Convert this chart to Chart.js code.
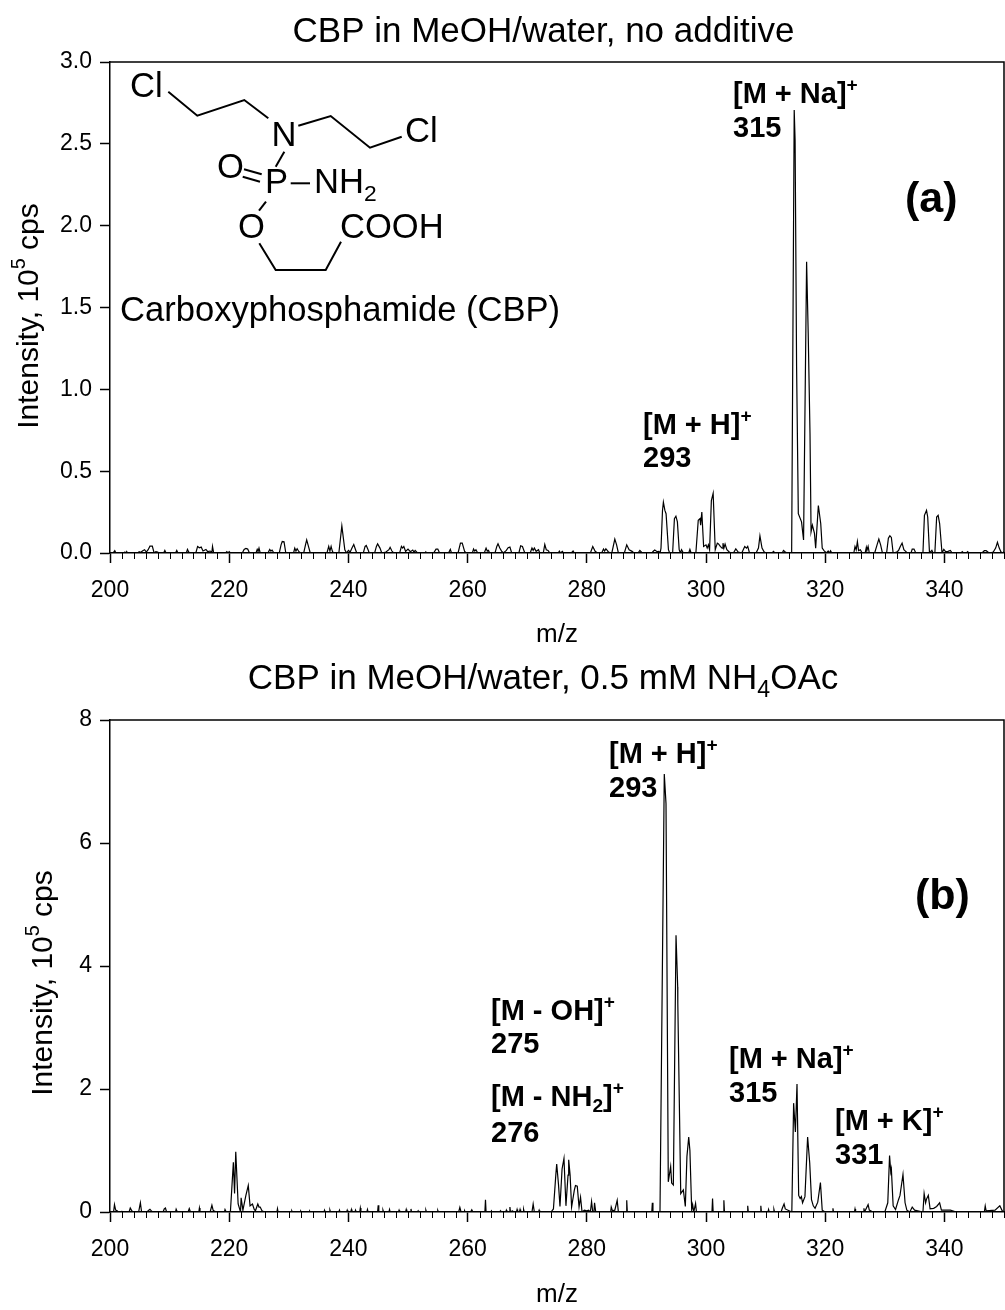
<!DOCTYPE html>
<html lang="en">
<head>
  <meta charset="UTF-8">
  <title>CBP spectra</title>
  <script src="https://cdn.jsdelivr.net/npm/chart.js"></script>
  <style>
    html, body { margin: 0; padding: 0; background: #fff; }
    body { position: relative; width: 1005px; height: 1310px; overflow: hidden; }
    canvas { position: absolute; left: 0; }
    #chartA { top: 0; }
    #chartB { top: 650px; }
  </style>
</head>
<body>
  <canvas id="chartA" width="1005" height="650"></canvas>
  <canvas id="chartB" width="1005" height="660"></canvas>

  <script>
    // panel (a) spectrum
    const mzA = [
      200, 200.5, 200.8, 201, 202.3, 202.5, 202.7, 202.8, 203,
      204.6, 204.9, 205.1, 205.5, 205.8, 206.1, 206.4, 206.7, 207.1, 207.4,
      207.7, 208, 208.2, 209, 209.2, 209.4, 211, 211.2, 211.4, 212.8, 213, 213.2, 213.5,
      214.4, 214.7, 215, 215.3, 215.6, 216.1, 216.4, 216.8, 217.1, 217.2, 217.4,
      219.4, 219.6, 219.8, 220, 220.2,
      222.2, 222.5, 222.8, 223.1, 223.4, 224.5, 224.7, 224.85, 225, 225.2,
      226.5, 226.8, 227, 227.2, 227.5, 228.4, 228.7, 228.9, 229.2, 229.5,
      230.8, 231, 231.2, 231.4, 231.7, 232, 232.5, 232.8, 233, 233.3, 233.6,
      236.4, 236.7, 236.9, 237.1, 237.3, 237.5,
      238.4, 238.9, 239.4, 239.7, 240, 240.3, 240.6, 240.9, 241.2, 241.4,
      242.5, 242.8, 243, 243.3, 243.5, 244.4, 244.7, 244.9, 245.3, 245.6, 246.3, 246.8, 247, 247.3, 247.6,
      248.6, 248.9, 249.1, 249.3, 249.6, 250, 250.4, 250.8, 251, 251.2, 251.6,
      252.9, 253, 253.2, 254.3, 254.7, 255, 255.3, 256.8, 257.1, 257.3,
      258.4, 258.8, 259.1, 259.5, 259.8, 260.8, 261, 261.2, 261.4, 261.7,
      262.8, 263.1, 263.3, 263.5, 263.7, 264.6, 264.9, 265.1, 265.4, 265.7, 266,
      266.5, 266.8, 267.1, 267.4, 268.6, 268.9, 269.2, 269.6,
      270.5, 270.8, 271, 271.2, 271.5, 271.9, 272.1, 272.7, 272.95, 273.2, 273.5, 273.8,
      275.2, 275.4, 275.6, 275.9, 276.1, 277.4, 277.7, 277.9,
      280.6, 281, 281.4, 281.8, 282.5, 282.8, 283, 283.2, 283.6, 283.9,
      284.2, 284.7, 285, 285.3, 286.3, 286.7, 287.1, 287.6, 287.9,
      288.6, 288.9, 289.3, 290.9, 291.2, 291.4, 291.8, 292.1, 292.3,
      292.45, 292.7, 292.85, 293.1, 293.3, 293.7, 293.9,
      294.4, 294.7, 294.95, 295.2, 295.5, 295.7, 295.9, 296.2, 297.1, 297.3, 297.5,
      298.3, 298.7, 299, 299.1, 299.3, 299.6, 300, 300.2, 300.4, 300.6,
      300.9, 301.2, 301.55, 301.9, 302.1, 302.4, 302.7, 302.85, 303, 303.2, 303.5, 303.9, 304.2,
      304.6, 305, 305.4, 306, 306.5, 306.8, 307, 307.3,
      308.4, 308.8, 309.05, 309.4, 309.7, 310, 311.1, 311.3, 311.6, 312.8, 313, 313.3, 313.6,
      314.37, 314.8, 314.95, 315.2, 315.49, 316.03, 316.37, 316.88, 317.15, 317.45, 317.63, 317.85, 318.2, 318.4,
      318.85, 319.25, 319.5, 319.8, 320.2, 320.5, 320.7, 320.9, 321.1,
      324.8, 325, 325.2, 325.4, 325.6, 325.9, 326.2, 326.7, 326.9, 327, 327.2, 327.4,
      328.3, 328.7, 329, 329.3, 329.6, 330.3, 330.6, 330.85, 331.1, 331.4,
      332, 332.3, 332.6, 332.9, 333.2, 333.5, 333.8, 334.4, 334.6, 334.9, 335.2,
      336.4, 336.65, 337, 337.2, 337.5, 337.9, 338.1, 338.4, 338.7, 338.95, 339.2, 339.6,
      339.9, 340.2, 340.6, 341, 341.3, 342.8, 343, 343.2, 343.7, 343.9, 344.1,
      346.3, 346.7, 347, 347.3, 347.6, 348.2, 348.6, 348.9, 349.2, 349.5, 349.9, 350
    ];
    const intensityA = [
      0, 0, .014, 0, 0, .006, 0, .008, 0,
      0, .008, .003, .014, .02, .006, .02, .042, .042, 0,
      .008, .006, 0, 0, .016, 0, 0, .016, 0, 0, .022, .006, 0,
      0, .04, .032, .036, .012, .022, .008, .012, .006, .04, 0,
      0, .008, 0, .008, 0,
      0, .022, .028, .024, 0, 0, .022, .01, .03, 0,
      0, .022, .012, .018, 0, 0, .05, .07, .068, 0,
      0, .03, .012, .026, .008, 0, 0, .05, .08, .04, 0,
      0, .04, .012, .04, .012, 0,
      0, .165, .02, 0, .016, .006, .03, .052, .02, 0,
      0, .04, .046, .02, 0, 0, .04, .056, .03, 0, .006, .02, .035, .012, 0,
      0, .04, .03, .04, .01, .024, .008, .018, .006, .016, 0,
      0, .006, 0, 0, .024, .024, 0, 0, .022, 0,
      0, .06, .06, .01, 0, 0, .024, .012, .02, 0,
      0, .03, .012, .016, 0, 0, .04, .056, .03, .012, 0,
      .016, .032, .036, 0, 0, .044, .04, 0,
      0, .03, .016, .03, .01, .02, 0, 0, .052, .02, .016, 0,
      0, .012, 0, .01, 0, 0, .012, 0,
      0, .04, .01, 0, 0, .024, .012, .026, .008, 0,
      0, .085, .05, 0, 0, .05, .02, .01, 0,
      0, .016, 0, 0, .012, .018, .008, .01, 0,
      .03, .26, .31, .26, .24, .02, 0,
      0, .21, .225, .19, .02, 0, .02, 0, 0, .022, 0,
      0, .2, .21, .17, .25, .04, .05, .03, .05, .02,
      .32, .365, .02, .06, .055, .04, .03, .06, .03, .055, .02, .006, 0,
      0, .025, .006, 0, .04, .03, .04, 0,
      0, .03, .105, .03, .01, 0, 0, .01, 0, 0, .016, .006, 0,
      0, 2.706, 2.52, 1.14, .24, .19, .08, 1.78, 1.34, .73, .13, .17, .12, .03,
      .29, .18, .03, .015, 0, .012, 0, .014, 0,
      0, .04, .02, .07, .015, .02, 0, 0, .035, .015, .04, 0,
      0, .05, .085, .05, 0, 0, .09, .105, .095, 0,
      .006, .015, .04, .06, .02, .01, 0, 0, .024, .024, 0,
      0, .23, .26, .22, 0, .016, 0, 0, .22, .23, .18, 0,
      .022, .008, .01, .016, 0, 0, .008, 0, 0, .008, 0,
      0, .014, .014, .006, 0, .006, .03, .065, .03, .006, 0, .01
    ];

    // panel (b) spectrum
    const mzB = [
      200, 200.6, 200.75, 200.95, 201.2, 201.4, 202, 202.2, 203.2, 203.4, 203.6, 203.8,
      204.8, 205, 205.1, 205.3, 206.2, 206.5, 206.7, 207, 207.2,
      208.9, 209.1, 209.3, 209.5, 211, 211.1, 211.3, 213.1, 213.3, 213.5, 214.9, 215, 215.1,
      216.8, 217.1, 217.3, 217.6, 217.8, 219.2, 219.3, 219.5,
      220.2, 220.7, 220.9, 221.1, 221.5, 221.9, 222, 222.3, 222.8, 223.2, 223.5, 223.9, 224.2, 224.4, 224.8, 225, 225.2, 225.5, 225.9,
      228, 228.1, 228.2, 230.4, 230.5, 230.6, 231.9, 232, 232.1, 233.4, 233.5, 233.6,
      235.9, 236, 236.1, 236.8, 236.9, 237, 238.4, 238.5, 238.6, 239.7, 239.8, 239.9, 240.4, 240.5, 240.6, 241.1, 241.2, 241.3,
      241.9, 242, 242.1, 243.1, 243.2, 243.3, 244.9, 245, 245.1, 245.7, 245.8, 245.9, 246.8, 246.9, 247,
      248.4, 248.5, 248.6, 249.6, 249.7, 249.8, 250.4, 250.5, 250.6, 251.6, 251.7, 251.8, 252.9, 253, 253.1, 254.9, 255, 255.1,
      258.5, 258.7, 258.9, 259.4, 259.5, 259.6, 260.5, 260.7, 260.9, 262.9, 263, 263.1, 263.9, 264, 264.1, 265.4, 265.5, 265.6,
      266.4, 266.5, 266.6, 267, 267.1, 267.2, 267.5, 267.6, 268.2, 268.3, 268.4, 268.7, 268.8, 268.9, 269.3, 269.4, 269.5,
      270.8, 271, 271.2, 271.9, 272, 272.1,
      274, 274.4, 274.8, 274.95, 275.25, 275.5, 275.85, 276.17, 276.5, 276.85, 276.96, 277.2, 277.45, 277.9, 278.1, 278.4, 278.7, 278.95, 279.2,
      279.6, 280, 280.3, 280.6, 280.8, 281, 281.2, 281.3, 281.5, 284, 284.1, 284.3, 284.7, 285.1, 285.3, 286.6, 286.7, 286.8, 290.9, 291, 291.1,
      292.28, 293, 293.29, 293.67, 294.07, 294.24, 294.52, 294.97, 295.25, 295.27, 295.76, 296.2, 296.53, 296.8, 297.1, 297.3, 297.6, 297.76, 297.95, 298.25, 298.4,
      301, 301.1, 301.2, 302.9, 303, 303.1, 306.9, 307, 307.1, 309.1, 309.2, 309.3, 310.4, 310.5, 310.6, 311.3, 311.4, 311.5, 312.6, 312.8, 313.1, 313.3,
      314.4, 314.7, 315, 315.27, 315.55, 315.8, 316, 316.2, 316.6, 317.05, 317.4, 317.7, 318, 318.3, 318.75, 319.2, 319.5, 320,
      321.2, 321.3, 321.4, 324.9, 325, 325.1, 326.4, 326.5, 326.6, 327.2, 327.4, 328,
      330, 330.5, 330.8, 331, 331.1, 331.4, 331.8, 332.3, 332.55, 333.05, 333.4, 333.7, 334.2, 334.6, 335,
      336.4, 336.6, 336.85, 337, 337.3, 337.6, 338.2, 338.7, 339.2, 339.5, 340.3, 341, 342,
      346.7, 346.85, 347, 348.5, 349.3, 349.7, 350
    ];
    const intensityB = [
      0, 0, .12, .03, .02, 0, .01, 0, 0, .065, .03, 0,
      0, .1, .15, 0, 0, .03, .045, .01, 0,
      0, .05, .065, 0, 0, .045, 0, 0, .055, 0, 0, .065, 0,
      0, .11, .03, .01, 0, 0, .04, 0,
      0, .81, .3, .98, .13, 0, .23, .03, .27, .43, .1, .13, .04, .02, .13, .08, .08, .02, 0,
      0, .055, 0, 0, .02, 0, 0, .015, 0, 0, .015, 0,
      0, .03, 0, 0, .03, 0, 0, .03, 0, 0, .03, 0, 0, .04, 0, 0, .03, 0,
      0, .065, 0, 0, .04, 0, 0, .11, 0, 0, .03, 0, 0, .04, 0,
      0, .03, 0, 0, .04, 0, 0, .05, 0, 0, .02, 0, 0, .03, 0, 0, .025, 0,
      0, .075, 0, 0, .02, 0, 0, .035, 0, 0, .2, 0, 0, .02, 0, 0, .02, 0,
      0, .03, 0, 0, .08, 0, .02, 0, 0, .04, 0, 0, .04, 0, 0, .04, 0,
      0, .13, 0, 0, .03, 0,
      0, .05, .6, .78, .45, .09, .7, .87, .1, .6, .85, .6, .08, .35, .43, .42, .08, .24, 0,
      .03, .02, .03, 0, .17, 0, 0, .15, 0, 0, .08, .02, .03, .19, 0, 0, .19, 0, 0, .15, 0,
      0, 7.12, 6.64, .49, .74, .47, .44, 4.5, 3.66, 3.4, .3, .36, .09, .9, 1.22, 1, .03, .12, 0, .14, 0,
      0, .22, 0, 0, .19, 0, 0, .1, 0, 0, .1, 0, 0, .04, 0, 0, .04, 0, 0, .06, .13, .05,
      0, 1.77, 1.3, 2.08, .27, .22, .25, .15, .25, 1.22, .8, .2, .1, .06, .16, .48, .03, 0,
      0, .06, 0, 0, .05, 0, 0, .06, 0, .12, .03, 0,
      0, .15, .92, .65, .7, .1, .04, .2, .27, .61, .15, .03, 0, .08, .03,
      0, .3, .15, .21, .27, .05, .06, .09, .15, .03, .03, .03, 0,
      0, .1, .02, .03, .1, .02, 0
    ];

    const titleA = 'CBP in MeOH/water, no additive';
    const titleB = 'CBP in MeOH/water, 0.5 mM NH_{4}OAc';
    const yTitle = 'Intensity, 10^{5} cps';
    const xTitle = 'm/z';

    const notesA = ['[M + Na]^{+}', '315', '[M + H]^{+}', '293'];
    const notesB = ['[M + H]^{+}', '293', '[M - OH]^{+}', '275', '[M - NH_{2}]^{+}', '276', '[M + Na]^{+}', '315', '[M + K]^{+}', '331'];

    const FONT = '"Liberation Sans", Arial, sans-serif';

    // draws text with ^{..} and _{..} pieces, returns the width
    function drawRich(ctx, str, x, y, size, weight, measureOnly) {
      const parts = str.split(/(\^\{[^}]*\}|_\{[^}]*\})/).filter(s => s);
      let cx = x;
      parts.forEach(p => {
        let txt = p, fs = size, dy = 0;
        if (p[0] === '^') { txt = p.slice(2, -1); fs = size * 0.66; dy = -size * 0.42; }
        if (p[0] === '_') { txt = p.slice(2, -1); fs = size * 0.66; dy = size * 0.22; }
        ctx.font = `${weight} ${fs}px ${FONT}`;
        if (!measureOnly) ctx.fillText(txt, cx, y + dy);
        cx += ctx.measureText(txt).width;
      });
      return cx - x;
    }

    function drawCentered(ctx, str, cx, y, size) {
      const w = drawRich(ctx, str, 0, 0, size, 'normal', true);
      drawRich(ctx, str, cx - w / 2, y, size, 'normal');
    }

    function drawMolecule(ctx) {
      const bonds = [
        [[168.3, 91.7], [197.3, 115.7], [244.3, 100], [268.3, 118.3]],
        [[298.3, 125.7], [330.7, 116], [370, 147.7], [401.7, 136.7]],
        [[284.3, 151.7], [275.7, 166.7]],
        [[244, 169.3], [261.7, 174.3]],
        [[242.7, 176.7], [260, 181.7]],
        [[290.7, 183.3], [310, 183.3]],
        [[266, 201.7], [259, 210.7]],
        [[259.3, 243.3], [275.7, 270], [325.7, 270], [341, 241.7]]
      ];
      ctx.strokeStyle = '#000';
      ctx.lineWidth = 2;
      bonds.forEach(b => {
        ctx.beginPath();
        b.forEach((p, i) => i ? ctx.lineTo(p[0], p[1]) : ctx.moveTo(p[0], p[1]));
        ctx.stroke();
      });
      const atoms = [
        ['Cl', 130, 97], ['N', 271.5, 146], ['Cl', 405, 142], ['O', 217, 178], ['P', 265, 193],
        ['NH_{2}', 314, 193], ['O', 238, 238], ['COOH', 340, 238], ['Carboxyphosphamide (CBP)', 120, 321]
      ];
      atoms.forEach(a => drawRich(ctx, a[0], a[1], a[2], 34.6, 'normal'));
    }

    // frame, minor ticks, titles and peak labels
    const extras = {
      id: 'extras',
      afterDraw(chart, args, o) {
        const ctx = chart.ctx, area = chart.chartArea, xs = chart.scales.x;
        ctx.save();
        ctx.strokeStyle = '#000';
        ctx.lineWidth = 1.5;
        ctx.beginPath();
        ctx.moveTo(area.left, area.top);
        ctx.lineTo(area.right, area.top);
        ctx.lineTo(area.right, area.bottom);
        ctx.stroke();
        ctx.lineWidth = 1;
        for (let v = 200; v <= 350; v += 2) {
          if ((v - 200) % 20 === 0) continue;
          const px = Math.round(xs.getPixelForValue(v)) + 0.5;
          ctx.beginPath();
          ctx.moveTo(px, area.bottom);
          ctx.lineTo(px, area.bottom + 6);
          ctx.stroke();
        }
        ctx.fillStyle = '#000';
        ctx.textAlign = 'left';
        ctx.textBaseline = 'alphabetic';
        drawCentered(ctx, o.title, o.titleX, o.titleY, 35);
        ctx.save();
        ctx.translate(o.yTitleX, o.yTitleY);
        ctx.rotate(-Math.PI / 2);
        drawCentered(ctx, yTitle, 0, 0, 30);
        ctx.restore();
        o.notes.forEach((t, i) => drawRich(ctx, t, o.noteX[i], o.noteY[i], 29, 'bold'));
        drawRich(ctx, o.tag, o.tagX, o.tagY, 43, 'bold');
        if (o.molecule) drawMolecule(ctx);
        ctx.restore();
      }
    };

    function makeChart(id, mz, values, yMax, yStep, yFmt, top, bottomH, xTitlePad, extraOpts) {
      return new Chart(document.getElementById(id), {
        type: 'line',
        data: {
          datasets: [{
            data: mz.map((m, i) => ({ x: m, y: values[i] })),
            borderColor: '#000',
            borderWidth: 1.2,
            pointRadius: 0,
            tension: 0
          }]
        },
        plugins: [extras],
        options: {
          responsive: false,
          animation: false,
          layout: { padding: { top: top, right: 1, left: 0, bottom: 0 } },
          plugins: { legend: { display: false }, tooltip: { enabled: false }, extras: extraOpts },
          scales: {
            x: {
              type: 'linear',
              min: 200,
              max: 350,
              afterFit(s) { s.height = bottomH; },
              border: { color: '#000', width: 1.5 },
              grid: { drawOnChartArea: false, tickLength: 10, tickColor: '#000', tickWidth: 1.5 },
              ticks: { stepSize: 20, includeBounds: false, maxRotation: 0, padding: 14, color: '#000', font: { family: FONT, size: 23 } },
              title: { display: true, text: xTitle, color: '#000', font: { family: FONT, size: 26 }, padding: { top: 0, bottom: xTitlePad } }
            },
            y: {
              min: 0,
              max: yMax,
              afterFit(s) { s.width = 110; },
              border: { color: '#000', width: 1.5 },
              grid: { drawOnChartArea: false, tickLength: 10, tickColor: '#000', tickWidth: 1.5 },
              ticks: { stepSize: yStep, padding: 8, color: '#000', font: { family: FONT, size: 23 }, callback: yFmt }
            }
          }
        }
      });
    }

    makeChart('chartA', mzA, intensityA, 3, 0.5, v => v.toFixed(1), 62, 97, 0, {
      title: titleA, titleX: 543.5, titleY: 42,
      yTitleX: 38, yTitleY: 316,
      notes: notesA, noteX: [733, 733, 643, 643], noteY: [103, 137, 434, 467],
      tag: '(a)', tagX: 905, tagY: 212,
      molecule: true
    });

    makeChart('chartB', mzB, intensityB, 8, 2, v => String(v), 70, 98, 0, {
      title: titleB, titleX: 543, titleY: 39,
      yTitleX: 52, yTitleY: 333,
      notes: notesB,
      noteX: [609, 609, 491, 491, 491, 491, 729, 729, 835, 835],
      noteY: [113, 147, 370, 403, 456, 492, 418, 452, 480, 514],
      tag: '(b)', tagX: 915, tagY: 259,
      molecule: false
    });
  </script>
</body>
</html>
